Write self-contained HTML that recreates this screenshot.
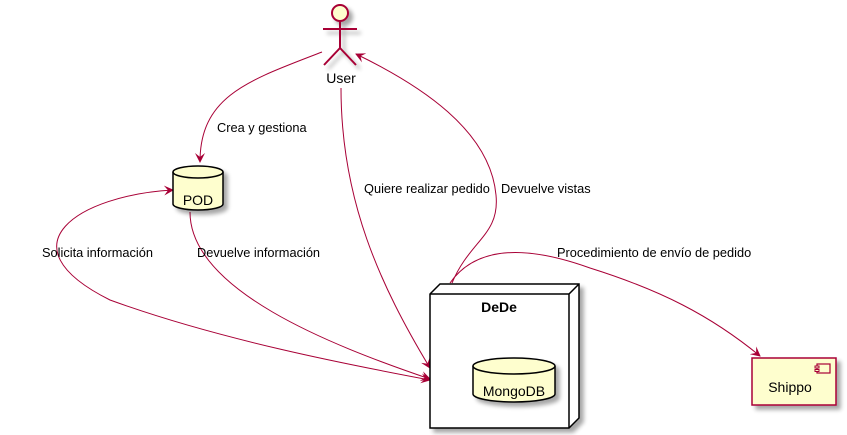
<!DOCTYPE html>
<html><head><style>body{margin:0;background:#fff}svg{display:block}text{font-family:"Liberation Sans",sans-serif;font-size:12.8px;fill:#000}</style></head>
<body>
<svg width="847" height="435" viewBox="0 0 847 435" xmlns="http://www.w3.org/2000/svg">
<defs>
<marker id="a" viewBox="0 0 10 10" refX="9" refY="5" markerWidth="10" markerHeight="10" orient="auto-start-reverse" markerUnits="userSpaceOnUse"><path d="M0,0 L10,5 L0,10 L4,5 Z" fill="#A80036"/></marker>
<filter id="s" x="-20%" y="-20%" width="150%" height="150%"><feGaussianBlur in="SourceAlpha" stdDeviation="2"/><feOffset dx="4" dy="4"/><feComponentTransfer><feFuncA type="linear" slope="0.35"/></feComponentTransfer><feMerge><feMergeNode/><feMergeNode in="SourceGraphic"/></feMerge></filter>
</defs>
<g fill="none" stroke="#A80036" stroke-width="1">
<path d="M322,52 C250,80 200,95 200,162" marker-end="url(#a)"/>
<path d="M341,88 C341,200 380,285 430,368" marker-end="url(#a)"/>
<path d="M452,283 C470,240 500,235 496,195 C490,130 420,85 356,54" marker-end="url(#a)"/>
<path d="M173,190 C80,195 0,245 110,300 C220,340 350,365 430,380" marker-start="url(#a)" marker-end="url(#a)"/>
<path d="M190,212 C190,290 330,345 430,379" marker-end="url(#a)"/>
<path d="M450,283 C480,240 540,250 590,268 C660,290 710,315 760,356" marker-end="url(#a)"/>
</g>
<g stroke="#A80036" stroke-width="2" fill="none" filter="url(#s)">
<circle cx="340" cy="13" r="8" fill="#FEFECE"/>
<line x1="340" y1="21" x2="340" y2="48"/>
<line x1="323" y1="29" x2="357" y2="29"/>
<line x1="340" y1="48" x2="324" y2="65"/>
<line x1="340" y1="48" x2="356" y2="65"/>
</g>
<text x="341" y="83" text-anchor="middle" style="font-size:14px">User</text>
<g stroke="#000" stroke-width="1.5" filter="url(#s)">
<path d="M173,172 L173,204 A25,6 0 0 0 223,204 L223,172" fill="#FEFECE"/>
<ellipse cx="198" cy="172" rx="25" ry="6" fill="#FEFECE"/>
</g>
<text x="198" y="205" text-anchor="middle" style="font-size:14px">POD</text>
<g stroke="#000" stroke-width="1.5" fill="#fff" filter="url(#s)">
<path d="M430,294 L440,284 L579,284 L579,418 L569,428 L430,428 Z"/>
<path d="M430,294 L569,294 L579,284 M569,294 L569,428" fill="none"/>
</g>
<text x="499" y="312" text-anchor="middle" style="font-size:14px;font-weight:bold">DeDe</text>
<g stroke="#000" stroke-width="1.5" filter="url(#s)">
<path d="M473,366 L473,394 A41,8 0 0 0 555,394 L555,366" fill="#FEFECE"/>
<ellipse cx="514" cy="366" rx="41" ry="8" fill="#FEFECE"/>
</g>
<text x="514" y="396" text-anchor="middle" style="font-size:14px">MongoDB</text>
<rect x="752" y="358" width="84" height="47" fill="#FEFECE" stroke="#A80036" stroke-width="1.5" filter="url(#s)"/>
<rect x="817" y="364" width="13" height="9" fill="#FEFECE" stroke="#A80036" stroke-width="1.2"/>
<rect x="815" y="366" width="4" height="2" fill="#FEFECE" stroke="#A80036"/>
<rect x="815" y="369.5" width="4" height="2" fill="#FEFECE" stroke="#A80036"/>
<text x="790" y="392" text-anchor="middle" style="font-size:14px">Shippo</text>
<text x="217" y="132">Crea y gestiona</text>
<text x="364" y="193">Quiere realizar pedido</text>
<text x="501" y="193">Devuelve vistas</text>
<text x="42" y="257">Solicita información</text>
<text x="197" y="257">Devuelve información</text>
<text x="557" y="257">Procedimiento de envío de pedido</text>
</svg>
</body></html>
